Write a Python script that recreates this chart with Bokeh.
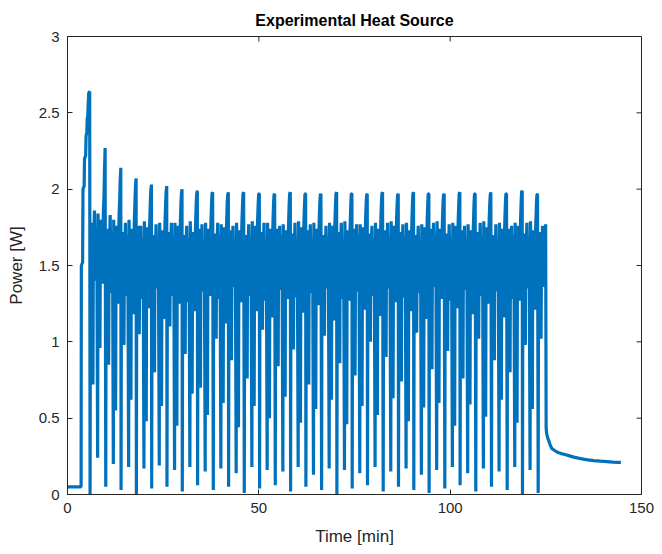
import math
from bokeh.plotting import figure
from bokeh.models import FixedTicker, Range1d, ColumnDataSource
from bokeh.embed import file_html
from bokeh.resources import INLINE

# ---- data -----------------------------------------------------------------
# initial idle period and first (largest) heating ramp
start_time = [0.0, 1.0, 2.0, 3.0, 3.55, 3.62, 3.95, 4.05, 4.35, 4.45, 4.75, 4.85,
              5.05, 5.15, 5.30, 5.40, 5.55, 5.80]
start_power = [0.05, 0.05, 0.05, 0.05, 0.05, 1.50, 1.52, 2.00, 2.02, 2.20, 2.22, 2.35,
               2.37, 2.46, 2.48, 2.55, 2.63, 2.64]

# times of the deep drops (start of each ~4 min control cycle)
cycle_start = [5.9, 10.0, 14.0, 18.0, 22.0, 26.0, 30.0, 34.0, 38.1, 42.1, 46.2, 50.2,
               54.3, 58.3, 62.3, 66.4, 70.4, 74.4, 78.4, 82.5, 86.5, 90.5, 94.5, 98.6,
               102.6, 106.7, 110.8, 114.9, 118.9]
# sample times inside one cycle [min after the deep drop]
cycle_offset = [0.00, 0.10, 0.40, 0.75, 0.85, 1.15, 1.45, 1.75, 1.98, 2.08,
                2.35, 2.58, 2.68, 2.95, 3.20, 3.30, 3.50, 3.64, 3.76, 3.93]
# power samples of every cycle [W]
cycle_power = [
    [0.00, 1.62, 1.78, 0.72, 1.55, 1.86, 1.40, 1.75, 0.24, 1.84, 1.45, 0.96, 1.60, 1.80, 1.38, 1.70, 1.87, 1.96, 2.12, 2.27],
    [0.05, 1.58, 1.74, 0.85, 1.50, 1.83, 1.32, 1.72, 0.20, 1.80, 1.40, 0.55, 1.58, 1.76, 1.25, 1.65, 1.84, 1.93, 2.05, 2.14],
    [0.03, 1.55, 1.72, 0.98, 1.45, 1.78, 1.30, 1.70, 0.18, 1.80, 1.48, 0.62, 1.52, 1.74, 1.18, 1.62, 1.82, 1.92, 2.02, 2.07],
    [0.00, 1.52, 1.76, 1.05, 1.48, 1.76, 1.28, 1.68, 0.17, 1.79, 1.42, 0.48, 1.55, 1.75, 1.22, 1.60, 1.80, 1.91, 1.99, 2.03],
    [0.04, 1.55, 1.70, 0.80, 1.52, 1.77, 1.35, 1.66, 0.19, 1.78, 1.45, 0.58, 1.50, 1.73, 1.15, 1.58, 1.80, 1.90, 1.98, 2.02],
    [0.05, 1.50, 1.72, 1.10, 1.46, 1.78, 1.30, 1.70, 0.16, 1.78, 1.38, 0.45, 1.55, 1.76, 1.25, 1.62, 1.79, 1.90, 1.97, 2.00],
    [0.02, 1.54, 1.70, 0.92, 1.50, 1.76, 1.26, 1.68, 0.18, 1.79, 1.44, 0.66, 1.52, 1.72, 1.20, 1.60, 1.80, 1.91, 1.97, 1.99],
    [0.06, 1.52, 1.74, 0.70, 1.48, 1.77, 1.33, 1.65, 0.15, 1.78, 1.46, 0.52, 1.56, 1.74, 1.30, 1.62, 1.80, 1.90, 1.97, 1.98],
    [0.03, 1.56, 1.71, 1.02, 1.52, 1.78, 1.28, 1.70, 0.17, 1.77, 1.40, 0.60, 1.50, 1.75, 1.12, 1.58, 1.79, 1.91, 1.96, 1.98],
    [0.05, 1.50, 1.73, 0.88, 1.45, 1.76, 1.36, 1.67, 0.14, 1.78, 1.42, 0.44, 1.54, 1.73, 1.26, 1.60, 1.80, 1.90, 1.97, 1.98],
    [0.01, 1.55, 1.70, 0.76, 1.50, 1.77, 1.30, 1.69, 0.18, 1.79, 1.47, 0.58, 1.53, 1.76, 1.20, 1.62, 1.81, 1.91, 1.97, 1.97],
    [0.04, 1.53, 1.72, 1.08, 1.48, 1.78, 1.27, 1.66, 0.16, 1.78, 1.40, 0.50, 1.56, 1.74, 1.16, 1.59, 1.79, 1.90, 1.96, 1.97],
    [0.06, 1.51, 1.74, 0.84, 1.52, 1.76, 1.34, 1.70, 0.15, 1.77, 1.44, 0.64, 1.50, 1.73, 1.28, 1.61, 1.80, 1.91, 1.97, 1.98],
    [0.02, 1.56, 1.71, 0.95, 1.46, 1.78, 1.29, 1.68, 0.18, 1.79, 1.46, 0.47, 1.55, 1.75, 1.19, 1.60, 1.80, 1.90, 1.97, 1.97],
    [0.05, 1.52, 1.73, 0.72, 1.50, 1.77, 1.32, 1.67, 0.13, 1.78, 1.41, 0.56, 1.53, 1.74, 1.24, 1.62, 1.81, 1.91, 1.96, 1.97],
    [0.03, 1.54, 1.70, 1.04, 1.49, 1.76, 1.35, 1.69, 0.17, 1.78, 1.45, 0.62, 1.51, 1.76, 1.14, 1.59, 1.80, 1.90, 1.97, 1.98],
    [0.00, 1.50, 1.72, 0.86, 1.51, 1.78, 1.28, 1.66, 0.16, 1.79, 1.43, 0.46, 1.56, 1.73, 1.27, 1.61, 1.79, 1.91, 1.97, 1.97],
    [0.04, 1.55, 1.74, 0.78, 1.47, 1.77, 1.33, 1.70, 0.14, 1.77, 1.40, 0.58, 1.52, 1.75, 1.21, 1.60, 1.80, 1.90, 1.96, 1.97],
    [0.06, 1.53, 1.71, 1.00, 1.50, 1.76, 1.30, 1.68, 0.18, 1.78, 1.46, 0.52, 1.54, 1.74, 1.17, 1.62, 1.81, 1.91, 1.97, 1.98],
    [0.02, 1.51, 1.73, 0.90, 1.48, 1.78, 1.35, 1.67, 0.15, 1.79, 1.42, 0.63, 1.55, 1.76, 1.26, 1.59, 1.80, 1.90, 1.96, 1.97],
    [0.05, 1.56, 1.72, 0.74, 1.52, 1.77, 1.29, 1.69, 0.17, 1.78, 1.44, 0.48, 1.50, 1.73, 1.20, 1.61, 1.79, 1.91, 1.97, 1.98],
    [0.03, 1.52, 1.70, 1.06, 1.49, 1.76, 1.32, 1.66, 0.13, 1.77, 1.47, 0.57, 1.56, 1.75, 1.15, 1.60, 1.80, 1.90, 1.97, 1.97],
    [0.01, 1.54, 1.74, 0.82, 1.47, 1.78, 1.36, 1.70, 0.16, 1.79, 1.41, 0.60, 1.53, 1.74, 1.28, 1.62, 1.81, 1.91, 1.96, 1.97],
    [0.04, 1.50, 1.71, 0.94, 1.51, 1.77, 1.27, 1.68, 0.18, 1.78, 1.45, 0.45, 1.55, 1.76, 1.22, 1.59, 1.80, 1.90, 1.97, 1.98],
    [0.06, 1.55, 1.73, 0.76, 1.50, 1.76, 1.34, 1.67, 0.14, 1.77, 1.43, 0.59, 1.51, 1.73, 1.18, 1.61, 1.79, 1.91, 1.97, 1.97],
    [0.02, 1.53, 1.72, 1.02, 1.48, 1.78, 1.30, 1.69, 0.17, 1.79, 1.40, 0.51, 1.56, 1.75, 1.25, 1.60, 1.80, 1.90, 1.96, 1.98],
    [0.05, 1.51, 1.70, 0.88, 1.52, 1.77, 1.33, 1.66, 0.15, 1.78, 1.46, 0.62, 1.54, 1.74, 1.16, 1.62, 1.81, 1.91, 1.97, 1.97],
    [0.03, 1.56, 1.74, 0.80, 1.49, 1.76, 1.28, 1.70, 0.18, 1.78, 1.42, 0.47, 1.52, 1.76, 1.27, 1.59, 1.80, 1.91, 1.98, 1.99],
    [0.00, 1.52, 1.71, 0.98, 1.50, 1.78, 1.35, 1.68, 0.16, 1.79, 1.44, 0.56, 1.55, 1.73, 1.21, 1.61, 1.79, 1.90, 1.96, 1.97],
]
# last (interrupted) cycle
last_start = 123.0
last_offset = [0.00, 0.10, 0.40, 0.75, 0.85, 1.15, 1.45, 1.75, 1.95, 2.08]
last_power = [0.01, 1.55, 1.72, 1.02, 1.50, 1.76, 1.36, 1.70, 1.77, 0.44]
# cool-down tail
tail_time = [125.2, 125.5, 125.8, 126.2, 126.6, 127.2, 128.0, 129.0, 130.0, 131.2,
             132.3, 133.5, 134.8, 136.0, 137.5, 139.3, 141.0, 142.5, 144.0, 144.6]
tail_power = [0.40, 0.37, 0.35, 0.32, 0.30, 0.29, 0.277, 0.268, 0.262, 0.253,
              0.245, 0.238, 0.232, 0.227, 0.222, 0.218, 0.215, 0.212, 0.21, 0.21]

x_ticks = [0, 50, 100, 150]
y_ticks = [0, 0.5, 1, 1.5, 2, 2.5, 3]
y_tick_labels = ["0", "0.5", "1", "1.5", "2", "2.5", "3"]
x_lim = [0, 150]
y_lim = [0, 3]

# ---- assemble the series ---------------------------------------------------
t = list(start_time)
pw = list(start_power)
for s, row in zip(cycle_start, cycle_power):
    t += [s + o for o in cycle_offset]
    pw += row
t += [last_start + o for o in last_offset]
pw += last_power
t += tail_time
pw += tail_power
src = ColumnDataSource(dict(t=t, p=pw))

# ---- figure ------------------------------------------------------------------
FONT = "Liberation Sans"
INK = "#262626"

p = figure(width=662, height=554, x_range=Range1d(*x_lim), y_range=Range1d(*y_lim),
           output_backend="svg", toolbar_location=None,
           min_border_left=67, min_border_right=21, min_border_top=36, min_border_bottom=60,
           x_axis_label="Time [min]", y_axis_label="Power [W]",
           title="Experimental Heat Source")
p.background_fill_color = "white"
p.border_fill_color = "white"
p.outline_line_color = INK
p.outline_line_alpha = 1.0
p.grid.visible = False

p.title.align = "center"
p.title.text_font = FONT
p.title.text_font_size = "16px"
p.title.text_font_style = "bold"
p.title.text_color = "black"
p.title.standoff = 15

p.line("t", "p", source=src, line_color="#0072BD", line_width=3.2, line_join="bevel")

for ax, ticks in ((p.xaxis[0], x_ticks), (p.yaxis[0], y_ticks)):
    ax.ticker = FixedTicker(ticks=ticks)
    ax.major_tick_in = 5
    ax.major_tick_out = 0
    ax.minor_tick_line_color = None
    ax.axis_line_color = INK
    ax.major_tick_line_color = INK
    ax.major_label_text_font = FONT
    ax.major_label_text_font_size = "15px"
    ax.major_label_text_color = INK
    ax.axis_label_text_font = FONT
    ax.axis_label_text_font_size = "17px"
    ax.axis_label_text_font_style = "normal"
    ax.axis_label_text_color = INK

p.yaxis[0].major_label_overrides = {v: s for v, s in zip(y_ticks, y_tick_labels)}
p.yaxis[0].major_label_standoff = 8
p.yaxis[0].axis_label_standoff = 10
p.xaxis[0].major_label_standoff = 8
p.xaxis[0].axis_label_standoff = 11

# box ticks on the top and right edges (inward, clipped by the frame)
p.scatter(x_ticks, [y_lim[1]] * len(x_ticks), marker="dash", angle=math.pi / 2,
          size=10, line_color=INK, line_width=1)
p.scatter([x_lim[1]] * len(y_ticks), y_ticks, marker="dash",
          size=10, line_color=INK, line_width=1)

open("out.html", "w").write(file_html(p, INLINE))
